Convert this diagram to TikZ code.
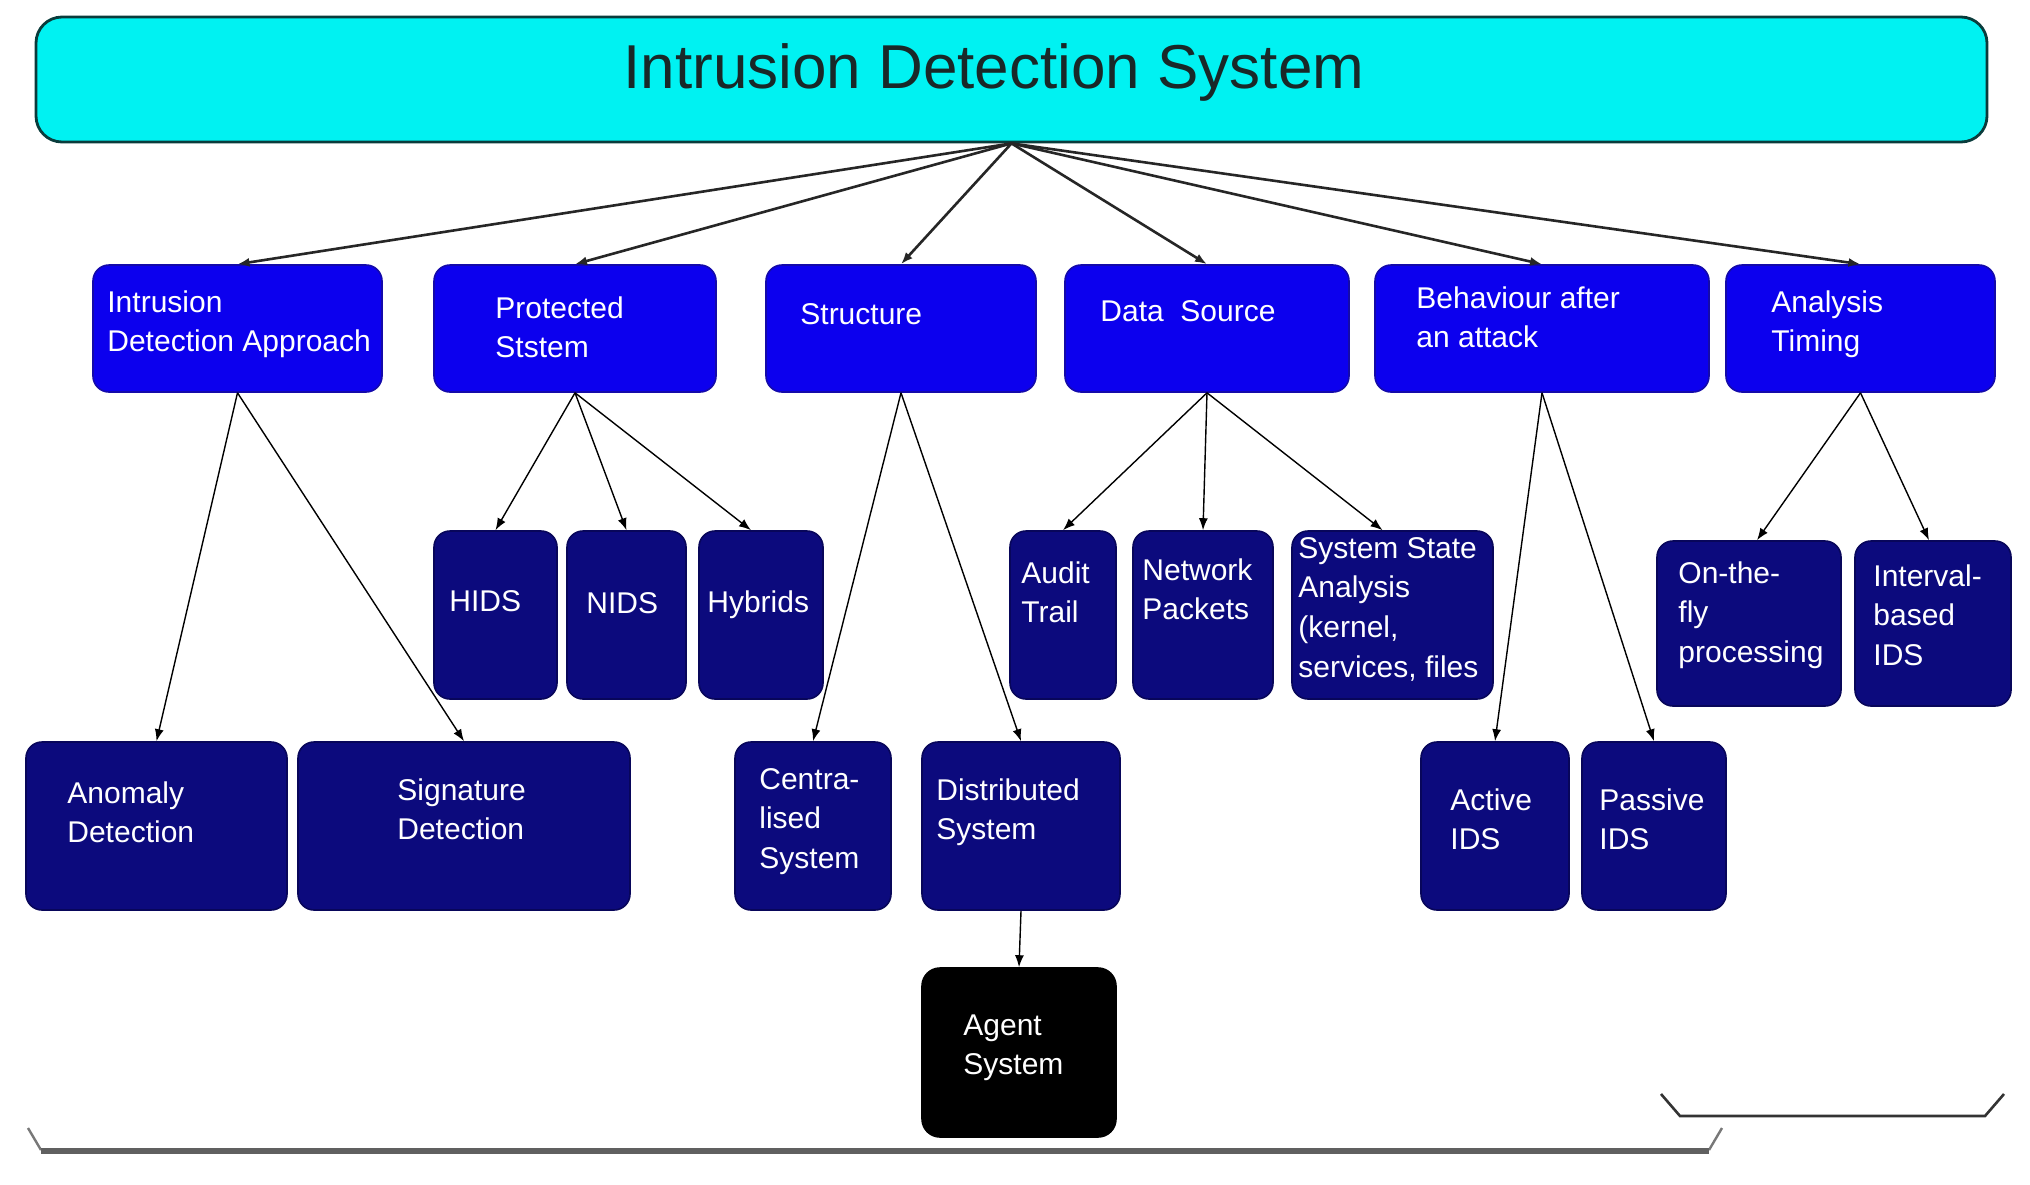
\documentclass[tikz,border=0pt]{standalone}
\usepackage{fontspec}
\setmainfont{Liberation Sans}
\usetikzlibrary{fit,arrows.meta}
\definecolor{cyanfill}{RGB}{0,242,242}
\definecolor{tealdark}{RGB}{10,60,60}
\definecolor{titlecol}{RGB}{25,40,40}
\definecolor{blueone}{RGB}{12,0,238}
\definecolor{blueedge}{RGB}{20,10,170}
\definecolor{navybox}{RGB}{12,10,125}
\definecolor{navyedge}{RGB}{8,6,90}
\definecolor{brgray}{RGB}{120,120,120}
\tikzset{
  topbox/.style={fill=cyanfill,draw=tealdark,line width=1.4pt,rounded corners=13pt,inner sep=0pt},
  lvlone/.style={fill=blueone,draw=blueedge,line width=0.8pt,rounded corners=8pt,inner sep=0pt},
  lvltwo/.style={fill=navybox,draw=navyedge,line width=0.8pt,rounded corners=8pt,inner sep=0pt},
  agentbox/.style={fill=black,draw=black,line width=0.8pt,rounded corners=9pt,inner sep=0pt},
  txt/.style={text=white,font=\fontsize{15}{19.8}\selectfont,align=left,inner sep=0pt,anchor=north west},
  conn/.style={-{Latex[length=6pt,width=4.5pt]},line width=0.7pt,black},
  topconn/.style={-{Latex[length=6pt,width=4.5pt]},line width=1.3pt,black!85}
}
\begin{document}
\begin{tikzpicture}[x=0.5pt,y=-0.5pt]
\useasboundingbox[fill=white] (0,0) rectangle (2030,1184);
% top
\node[topbox,fit={(36,17)(1987,142)}] (ids) {};
\node[text=titlecol,font=\fontsize{31}{36}\selectfont,inner sep=0pt] (title) at (994,72) {Intrusion Detection System};
% level one
\node[lvlone,fit={(93,265)(382,392)}] (ida) {};
\node[lvlone,fit={(434,265)(716,392)}] (prot) {};
\node[lvlone,fit={(766,265)(1036,392)}] (struct) {};
\node[lvlone,fit={(1065,265)(1349,392)}] (data) {};
\node[lvlone,fit={(1375,265)(1709,392)}] (behav) {};
\node[lvlone,fit={(1726,265)(1995,392)}] (timing) {};
\node[txt] (idat) at (107,290) {Intrusion\\Detection Approach};
\node[txt] (prott) at (495,296) {Protected\\Ststem};
\node[txt] (structt) at (800,303) {Structure};
\node[txt] (datat) at (1100,300) {Data\ \ Source};
\node[txt] (behavt) at (1416,286) {Behaviour after\\an attack};
\node[txt] (timingt) at (1771,290) {Analysis\\Timing};
% level two
\node[lvltwo,fit={(434,531)(557,699)}] (hids) {};
\node[lvltwo,fit={(567,531)(686,699)}] (nids) {};
\node[lvltwo,fit={(699,531)(823,699)}] (hyb) {};
\node[lvltwo,fit={(1010,531)(1116,699)}] (audit) {};
\node[lvltwo,fit={(1133,531)(1273,699)}] (netp) {};
\node[lvltwo,fit={(1292,531)(1493,699)}] (sysst) {};
\node[lvltwo,fit={(1657,541)(1841,706)}] (onfly) {};
\node[lvltwo,fit={(1855,541)(2011,706)}] (interval) {};
\node[txt] (hidst) at (449,590) {HIDS};
\node[txt] (nidst) at (586,592) {NIDS};
\node[txt] (hybt) at (707,590) {Hybrids};
\node[txt] (auditt) at (1021,561) {Audit\\Trail};
\node[txt] (netpt) at (1142,558) {Network\\Packets};
\node[txt] (sysstt) at (1298,537) {System State\\Analysis\\(kernel,\\services, files};
\node[txt] (onflyt) at (1678,561) {On-the-\\fly\\processing};
\node[txt] (intervalt) at (1873,564) {Interval-\\based\\IDS};
% level three
\node[lvltwo,fit={(26,742)(287,910)}] (anom) {};
\node[lvltwo,fit={(298,742)(630,910)}] (sig) {};
\node[lvltwo,fit={(735,742)(891,910)}] (central) {};
\node[lvltwo,fit={(922,742)(1120,910)}] (distr) {};
\node[lvltwo,fit={(1421,742)(1569,910)}] (active) {};
\node[lvltwo,fit={(1582,742)(1726,910)}] (passive) {};
\node[txt] (anomt) at (67,781) {Anomaly\\Detection};
\node[txt] (sigt) at (397,778) {Signature\\Detection};
\node[txt] (centralt) at (759,768) {Centra-\\lised\\System};
\node[txt] (distrt) at (936,778) {Distributed\\System};
\node[txt] (activet) at (1450,788) {Active\\IDS};
\node[txt] (passivet) at (1599,788) {Passive\\IDS};
% agent
\node[agentbox,fit={(922,968)(1116,1137)}] (agent) {};
\node[txt] (agentt) at (963,1014) {Agent\\System};
% connectors from top
\foreach \t in {ida,prot,struct,data,behav,timing}
  \draw[topconn] (ids.south) -- (\t.north);
% level one to level two/three
\draw[conn] (ida.south) -- (anom.north);
\draw[conn] (ida.south) -- (sig.north);
\draw[conn] (prot.south) -- (hids.north);
\draw[conn] (prot.south) -- (nids.north);
\draw[conn] (prot.south) -- ([xshift=-5pt]hyb.north);
\draw[conn] (struct.south) -- (central.north);
\draw[conn] (struct.south) -- (distr.north);
\draw[conn] (data.south) -- (audit.north);
\draw[conn] (data.south) -- (netp.north);
\draw[conn] (data.south) -- ([xshift=-5pt]sysst.north);
\draw[conn] (behav.south) -- (active.north);
\draw[conn] (behav.south) -- (passive.north);
\draw[conn] (timing.south) -- ([xshift=4pt]onfly.north);
\draw[conn] (timing.south) -- ([xshift=-2pt]interval.north);
\draw[conn] (distr.south) -- (agent.north);
% brackets
\draw[brgray,line width=1.2pt] (28,1128) -- (41,1150);
\draw[brgray,line width=1.2pt] (1722,1128) -- (1709,1150);
\draw[brgray!80!black,line width=2.6pt] (41,1151) -- (1709,1151);
\draw[black!80,line width=1.3pt] (1661,1094) -- (1680,1116) -- (1985,1116) -- (2004,1094);
\end{tikzpicture}
\end{document}
